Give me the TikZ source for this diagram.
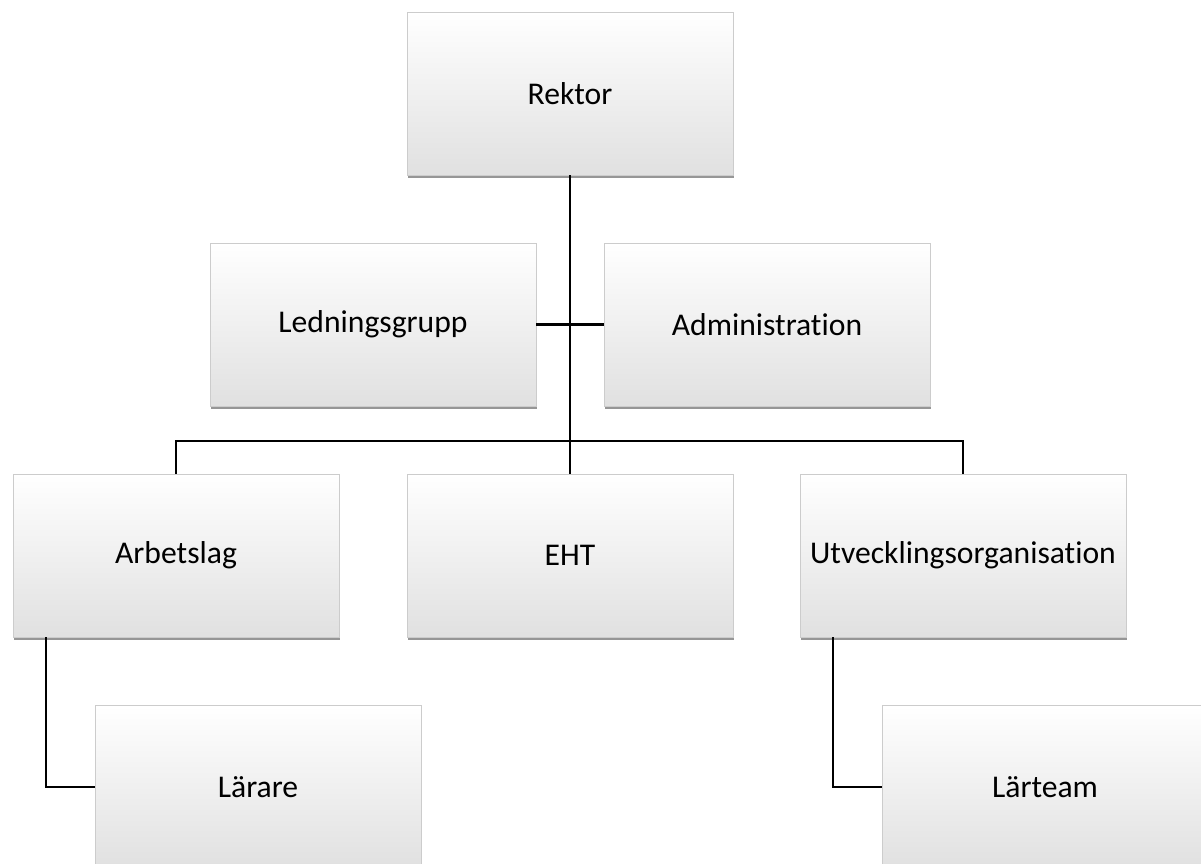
\documentclass[tikz,border=0pt]{standalone}
\usepackage{fontspec}
\setmainfont{Carlito}[Ligatures=NoCommon]
\usepackage{tikz}
\usetikzlibrary{positioning,calc,shadows}

\begin{document}
\begin{tikzpicture}[
    orgbox/.style={draw=black!20, line width=0.4pt, minimum width=6.52cm, minimum height=3.26cm,
      align=center, font=\fontsize{18}{22}\selectfont,
      top color=white, middle color=white, bottom color=black!12,
      drop shadow={shadow xshift=0.5pt, shadow yshift=-1.8pt, opacity=0.55, fill=black!75}},
    link/.style={draw=black, line width=1.15pt}
]
  \useasboundingbox (0,0) rectangle (24.02,-17.26);

  \node[orgbox] (rektor)    at (11.40, -1.87)  {Rektor};
  \node[orgbox] (ledning)   at (7.46, -6.49)   {Ledningsgrupp};
  \node[orgbox] (admin)     at (15.34, -6.49)  {Administration};
  \node[orgbox] (arbetslag) at (3.52, -11.11)  {Arbetslag};
  \node[orgbox] (eht)       at (11.40, -11.11) {EHT};
  \node[orgbox] (utveckl)   at (19.26, -11.11) {Utvecklingsorganisation};
  \node[orgbox] (larare)    at (5.16, -15.74)  {Lärare};
  \node[orgbox] (larteam)   at (20.90, -15.74) {Lärteam};

  \coordinate (bus) at (11.40, -8.82);

  \draw[link] (rektor.south) -- (bus);
  \draw[link] (ledning.east) -- (admin.west);
  \draw[link] (bus) -| (arbetslag.north);
  \draw[link] (bus) -- (eht.north);
  \draw[link] (bus) -| (utveckl.north);
  \draw[link] ($(arbetslag.south west)+(0.66,0)$) |- (larare.west);
  \draw[link] ($(utveckl.south west)+(0.66,0)$) |- (larteam.west);
\end{tikzpicture}
\end{document}
